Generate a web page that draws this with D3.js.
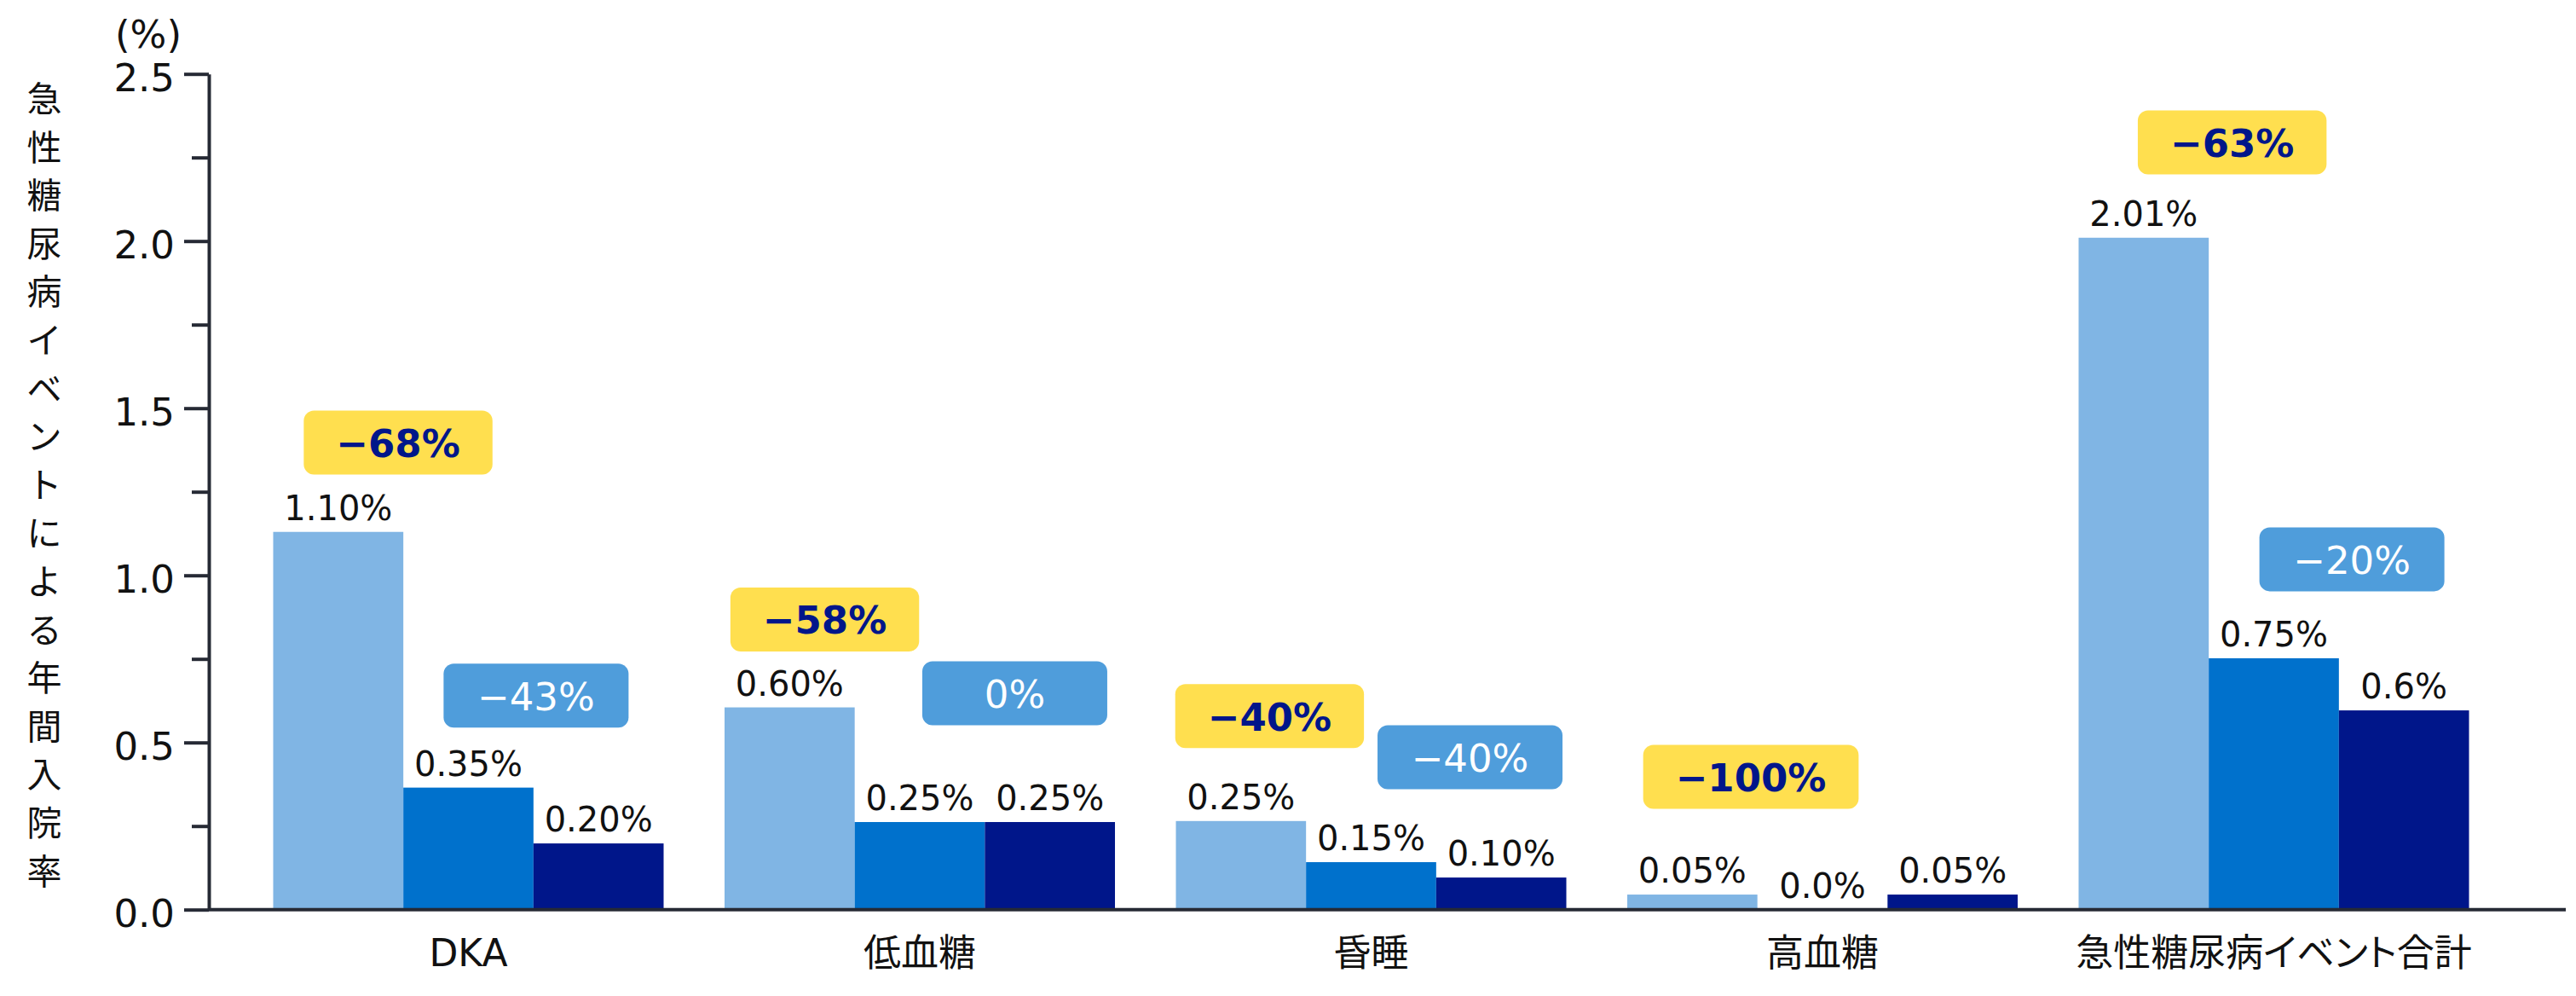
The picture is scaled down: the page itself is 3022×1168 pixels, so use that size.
<!DOCTYPE html>
<html>
<head>
<meta charset="utf-8">
<script src="https://cdn.jsdelivr.net/npm/d3@7/dist/d3.min.js"></script>
<style>
  html, body { margin: 0; padding: 0; background: #ffffff; }
  svg { display: block; }
</style>
</head>
<body>
<svg id="chart" width="3022" height="1168"></svg>
<script>
// ---------------- data ----------------
const categories = ['DKA', '低血糖', '昏睡', '高血糖', '急性糖尿病イベント合計'];
// bar heights as drawn (%)
const series1 = [1.13, 0.605, 0.265, 0.045, 2.01];
const series2 = [0.365, 0.262, 0.142, 0.0, 0.752];
const series3 = [0.198, 0.262, 0.096, 0.045, 0.596];
// value labels as printed
const labels1 = ['1.10%', '0.60%', '0.25%', '0.05%', '2.01%'];
const labels2 = ['0.35%', '0.25%', '0.15%', '0.0%', '0.75%'];
const labels3 = ['0.20%', '0.25%', '0.10%', '0.05%', '0.6%'];
// reduction call-outs
const reductionYellow = ['−68%', '−58%', '−40%', '−100%', '−63%'];
const reductionBlue = ['−43%', '0%', '−40%', null, '−20%'];
const yTickValues = [0, 0.5, 1.0, 1.5, 2.0, 2.5];
const yMinorTicks = [0.25, 0.75, 1.25, 1.75, 2.25];
const yTitle = '急性糖尿病イベントによる年間入院率';
const yUnit = '(%)';

// call-out anchors (value units for box centre, bar widths offset from group centre)
const yellowAt = [1.397, 0.868, 0.579, 0.397, 2.295];
const yellowDx = [-0.54, -0.73, -0.78, -0.55, -0.32];
const blueAt = [0.640, 0.647, 0.456, null, 1.048];
const blueDx = [0.52, 0.73, 0.76, null, 0.60];

// ---------------- layout ----------------
const X0 = 245, X1 = 3010, Y0 = 1066.7, YT = 86.7;
const colors = ['#80B5E4', '#0071CC', '#00168A'];
const axisColor = '#262A35';
const latin = "'DejaVu Sans', 'Noto Sans CJK JP', sans-serif";
const cjk = "'Noto Sans CJK JP', 'DejaVu Sans', sans-serif";

const svg = d3.select('#chart');

const y = d3.scaleLinear().domain([0, 2.5]).range([Y0, YT]);
const x = d3.scaleBand().domain(categories)
  .range([284.75, 2932.25]).paddingInner(0.135).paddingOuter(0.0675);
const xs = d3.scaleBand().domain([0, 1, 2]).range([0, x.bandwidth()]);

const allSeries = [series1, series2, series3];
const allLabels = [labels1, labels2, labels3];

// ---------------- bars ----------------
const groups = svg.append('g').selectAll('g')
  .data(categories).join('g')
  .attr('transform', d => `translate(${x(d)},0)`);

groups.selectAll('rect')
  .data((d, i) => allSeries.map((s, k) => ({ k, v: s[i] })))
  .join('rect')
  .attr('x', d => xs(d.k))
  .attr('width', xs.bandwidth())
  .attr('y', d => y(d.v))
  .attr('height', d => Math.max(0, Y0 - y(d.v)))
  .attr('fill', d => colors[d.k]);

groups.selectAll('text.val')
  .data((d, i) => allSeries.map((s, k) => ({ k, v: s[i], t: allLabels[k][i] })))
  .join('text')
  .attr('class', 'val')
  .attr('x', d => xs(d.k) + xs.bandwidth() / 2)
  .attr('y', d => y(d.v) - 14)
  .attr('text-anchor', 'middle')
  .attr('font-family', latin)
  .attr('font-size', 40)
  .attr('fill', '#111')
  .text(d => d.t);

// ---------------- axes ----------------
const yAxis = svg.append('g').attr('transform', `translate(${X0},0)`)
  .call(d3.axisLeft(y).tickValues(yTickValues).tickFormat(d3.format('.1f'))
    .tickSize(29).tickSizeOuter(0).tickPadding(11));
yAxis.select('.domain').attr('stroke', axisColor).attr('stroke-width', 4);
yAxis.selectAll('.tick line').attr('stroke', axisColor).attr('stroke-width', 4);
yAxis.selectAll('.tick text')
  .attr('font-family', latin).attr('font-size', 45).attr('fill', '#111')
  .attr('dy', '0.45em');

const yMinor = svg.append('g').attr('transform', `translate(${X0},0)`)
  .call(d3.axisLeft(y).tickValues(yMinorTicks).tickFormat('').tickSize(20).tickSizeOuter(0));
yMinor.select('.domain').remove();
yMinor.selectAll('.tick line').attr('stroke', axisColor).attr('stroke-width', 4);

// x axis baseline
svg.append('line')
  .attr('x1', X0).attr('x2', X1).attr('y1', Y0).attr('y2', Y0)
  .attr('stroke', axisColor).attr('stroke-width', 4);

const xAxis = svg.append('g').attr('transform', `translate(0,${Y0})`)
  .call(d3.axisBottom(x).tickSize(0).tickPadding(0));
xAxis.select('.domain').remove();
xAxis.selectAll('.tick text')
  .attr('y', 66).attr('dy', 0)
  .attr('font-family', d => /^[\x00-\x7F]+$/.test(d) ? latin : cjk)
  .attr('font-size', 44)
  .style('font-feature-settings', "'palt'")
  .attr('fill', '#111');

// unit label
svg.append('text')
  .attr('x', 174).attr('y', 56)
  .attr('text-anchor', 'middle')
  .attr('font-family', latin).attr('font-size', 45).attr('fill', '#111')
  .text(yUnit);

// vertical y title, one glyph per row
svg.append('g').selectAll('text')
  .data(Array.from(yTitle)).join('text')
  .attr('x', 52)
  .attr('y', (d, i) => 131 + i * 56.6)
  .attr('text-anchor', 'middle')
  .attr('font-family', cjk).attr('font-size', 41).attr('fill', '#111')
  .text(d => d);

// ---------------- call-out boxes ----------------
function callout(text, cx, cy, fill, color, weight) {
  const g = svg.append('g');
  const rect = g.append('rect').attr('fill', fill).attr('rx', 12).attr('ry', 12);
  const t = g.append('text')
    .attr('x', cx).attr('y', cy + 17)
    .attr('text-anchor', 'middle')
    .attr('font-family', latin).attr('font-size', 45)
    .attr('font-weight', weight).attr('fill', color)
    .text(text);
  const tw = t.node().getComputedTextLength();
  const w = Math.max(217, tw + 76), h = 75;
  rect.attr('x', cx - w / 2).attr('y', cy - h / 2).attr('width', w).attr('height', h);
}

categories.forEach((c, i) => {
  const center = x(c) + x.bandwidth() / 2;
  const bw = xs.bandwidth();
  if (reductionYellow[i] != null) {
    callout(reductionYellow[i], center + yellowDx[i] * bw, y(yellowAt[i]), '#FFDF4F', '#00168A', 'bold');
  }
  if (reductionBlue[i] != null) {
    callout(reductionBlue[i], center + blueDx[i] * bw, y(blueAt[i]), '#4F9DDB', '#ffffff', 'normal');
  }
});
</script>
</body>
</html>
